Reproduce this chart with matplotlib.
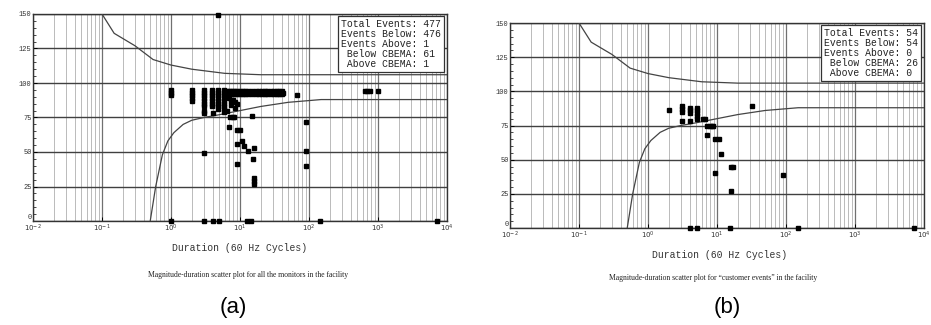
import matplotlib
matplotlib.use("Agg")
import matplotlib.pyplot as plt
import numpy as np
from matplotlib.ticker import LogLocator, FixedLocator, NullFormatter, MultipleLocator

# ---------------- data ----------------
# CBEMA-like envelope curves (duration in 60 Hz cycles, magnitude %)
upper_x = [0.1, 0.15, 0.3, 0.55, 1.0, 2.0, 6.0, 20.0, 10000.0]
upper_y = [150, 136, 127, 117, 113, 110, 107, 106, 106]
lower_x = [0.5, 0.6, 0.75, 0.9, 1.1, 1.5, 2.0, 3.0, 5.0, 10.0, 20.0, 50.0, 150.0, 10000.0]
lower_y = [0, 25, 48, 58, 64, 70, 73, 75, 77, 80, 83, 86, 88, 88]

# panel (a): all monitors
a_dur = [1.0, 1.0, 1.0,
         2.0, 2.0, 2.0, 2.0, 2.0,
         3.0, 3.0, 3.0, 3.0, 3.0, 3.0, 3.0, 3.0, 3.0,
         3.9, 3.9, 3.9, 3.9, 3.9, 3.9, 3.9, 4.0,
         4.8, 4.8, 4.8, 4.8, 4.8, 4.8, 4.8, 4.8,
         5.9, 5.9, 5.9, 5.9, 5.9, 5.9, 5.9, 5.9, 5.9,
         6.5, 6.5, 7.0, 7.0, 7.5, 7.5, 8.0, 8.0, 8.5, 8.5, 9.0, 9.0, 10, 10, 11, 11,
         12, 12, 13, 13, 15, 15, 17, 17, 19, 19, 21, 21, 23, 23, 25, 25, 28, 28,
         31, 31, 34, 34, 37, 37, 40, 40, 42,
         7.0, 7.5, 8.0, 8.5, 9.0, 7.5, 8.5,
         67, 650, 700, 760, 1000,
         6.5, 7.2, 7.8, 8.3, 15, 7.0, 9.0, 10, 9.0, 10.7, 11.5, 13, 16, 15.5,
         16, 16, 16, 9.0, 3.0, 91, 91, 91,
         1.0, 3.0, 4.0, 5.0, 12.6, 14.5, 145, 7200,
         4.8]
a_mag = [91, 93, 95,
         87, 89, 91, 93, 95,
         95, 93, 91, 89, 87, 85, 83, 80, 78,
         95, 93, 91, 89, 87, 85, 83, 78,
         95, 93, 91, 89, 87, 85, 83, 81,
         95, 93, 91, 89, 87, 85, 83, 81, 79,
         94, 92, 94, 92, 94, 92, 94, 92, 94, 92, 94, 92, 94, 92, 94, 92,
         94, 92, 94, 92, 94, 92, 94, 92, 94, 92, 94, 92, 94, 92, 94, 92, 94, 92,
         94, 92, 94, 92, 94, 92, 94, 92, 93,
         89, 87, 88, 86, 85, 84, 82,
         91, 94, 94, 94, 94,
         80, 75, 75, 75, 76, 68, 66, 66, 56, 58, 54, 51, 53, 45,
         31, 29, 27, 41, 49, 72, 51, 40,
         0, 0, 0, 0, 0, 0, 0, 0,
         149]

# panel (b): customer events
b_dur = [2.0, 3.1, 3.1, 3.1, 3.1, 4.1, 4.1, 4.1, 4.1, 5.2, 5.2, 5.2, 5.2, 5.2,
         6.2, 6.8, 7.2, 7.8, 8.4, 8.8, 7.2, 9.5, 10.7, 11.5, 9.3, 15.8, 17, 16.2,
         32, 91,
         4.1, 5.2, 15.5, 148, 7200]
b_mag = [86, 89, 87, 85, 78, 88, 86, 84, 78, 88, 86, 84, 82, 80,
         80, 80, 75, 75, 75, 75, 68, 65, 65, 54, 40, 45, 45, 27,
         89, 39,
         0, 0, 0, 0, 0]

y_ticks = [0, 25, 50, 75, 100, 125, 150]
x_ticks = [1e-2, 1e-1, 1e0, 1e1, 1e2, 1e3, 1e4]
x_labels = [r"$10^{-2}$", r"$10^{-1}$", r"$10^{0}$", r"$10^{1}$", r"$10^{2}$", r"$10^{3}$", r"$10^{4}$"]

a_stats = ["Total Events: 477", "Events Below: 476", "Events Above: 1",
           " Below CBEMA: 61", " Above CBEMA: 1"]
b_stats = ["Total Events: 54", "Events Below: 54", "Events Above: 0",
           " Below CBEMA: 26", " Above CBEMA: 0"]

xlabel_text = "Duration (60 Hz Cycles)"
a_caption = "Magnitude-duration scatter plot for all the monitors in the facility"
b_caption = "Magnitude-duration scatter plot for \u201ccustomer events\u201d in the facility"

# ---------------- figure ----------------
W, H = 931, 325
fig = plt.figure(figsize=(W / 100, H / 100), dpi=100)
fig.patch.set_facecolor("white")

mono = "Liberation Mono"


def make_panel(rect, dur, mag, stats):
    ax = fig.add_axes(rect)
    ax.set_xscale("log")
    ax.set_xlim(1e-2, 1e4)
    ax.set_ylim(0, 150)
    # grids
    ax.xaxis.set_major_locator(FixedLocator(x_ticks))
    ax.xaxis.set_minor_locator(LogLocator(base=10, subs=np.arange(2, 10), numticks=20))
    ax.xaxis.set_minor_formatter(NullFormatter())
    ax.yaxis.set_major_locator(FixedLocator(y_ticks))
    ax.yaxis.set_minor_locator(MultipleLocator(5))
    ax.grid(True, which="minor", axis="x", color="#b0b0b0", lw=0.6)
    ax.grid(True, which="major", axis="x", color="#707070", lw=0.9)
    ax.grid(True, which="major", axis="y", color="#404040", lw=1.0)
    ax.set_axisbelow(True)
    ax.set_xticklabels(x_labels, fontsize=5, family=mono, color="#333333")
    ylabs = ax.set_yticklabels([str(v) for v in y_ticks], fontsize=5, family=mono, color="#333333")
    ylabs[0].set_verticalalignment("bottom")
    ax.tick_params(axis="both", which="major", length=3, width=0.7, pad=1, direction="in")
    ax.tick_params(axis="y", which="minor", length=2, width=0.5, direction="in")
    ax.tick_params(axis="x", which="minor", length=0)
    for s in ax.spines.values():
        s.set_color("#333333")
        s.set_linewidth(1.0)
    # envelope curves
    ax.plot(upper_x, upper_y, color="#444444", lw=0.9, zorder=3)
    ax.plot(lower_x, lower_y, color="#444444", lw=0.9, zorder=3)
    # events
    ax.plot(dur, mag, linestyle="none", marker="s", markersize=3.0,
            color="black", zorder=4, clip_on=False)
    # stats box
    ax.text(0.985, 0.975, "\n".join(stats), transform=ax.transAxes,
            ha="right", va="top", multialignment="left", family=mono,
            fontsize=7, color="#222222", linespacing=1.0, zorder=6,
            bbox=dict(boxstyle="square,pad=0.3", fc="white", ec="#333333", lw=0.9))
    return ax


ax_a = make_panel([33 / W, 1 - 221 / H, 414 / W, 207 / H], a_dur, a_mag, a_stats)
ax_b = make_panel([510 / W, 1 - 228 / H, 414 / W, 205 / H], b_dur, b_mag, b_stats)

# labels below panels
fig.text(240 / W, 1 - 248 / H, xlabel_text, ha="center", va="center",
         family=mono, fontsize=7, color="#333333")
fig.text(720 / W, 1 - 255 / H, xlabel_text, ha="center", va="center",
         family=mono, fontsize=7, color="#333333")
fig.text(248 / W, 1 - 275 / H, a_caption, ha="center", va="center",
         family="Liberation Serif", fontsize=5.5, color="#222222")
fig.text(713 / W, 1 - 278 / H, b_caption, ha="center", va="center",
         family="Liberation Serif", fontsize=5.5, color="#222222")
fig.text(233 / W, 1 - 307 / H, "(a)", ha="center", va="center",
         family="Liberation Sans", fontsize=16, color="black")
fig.text(727 / W, 1 - 307 / H, "(b)", ha="center", va="center",
         family="Liberation Sans", fontsize=16, color="black")

fig.savefig("out.png", dpi=100, facecolor="white")
